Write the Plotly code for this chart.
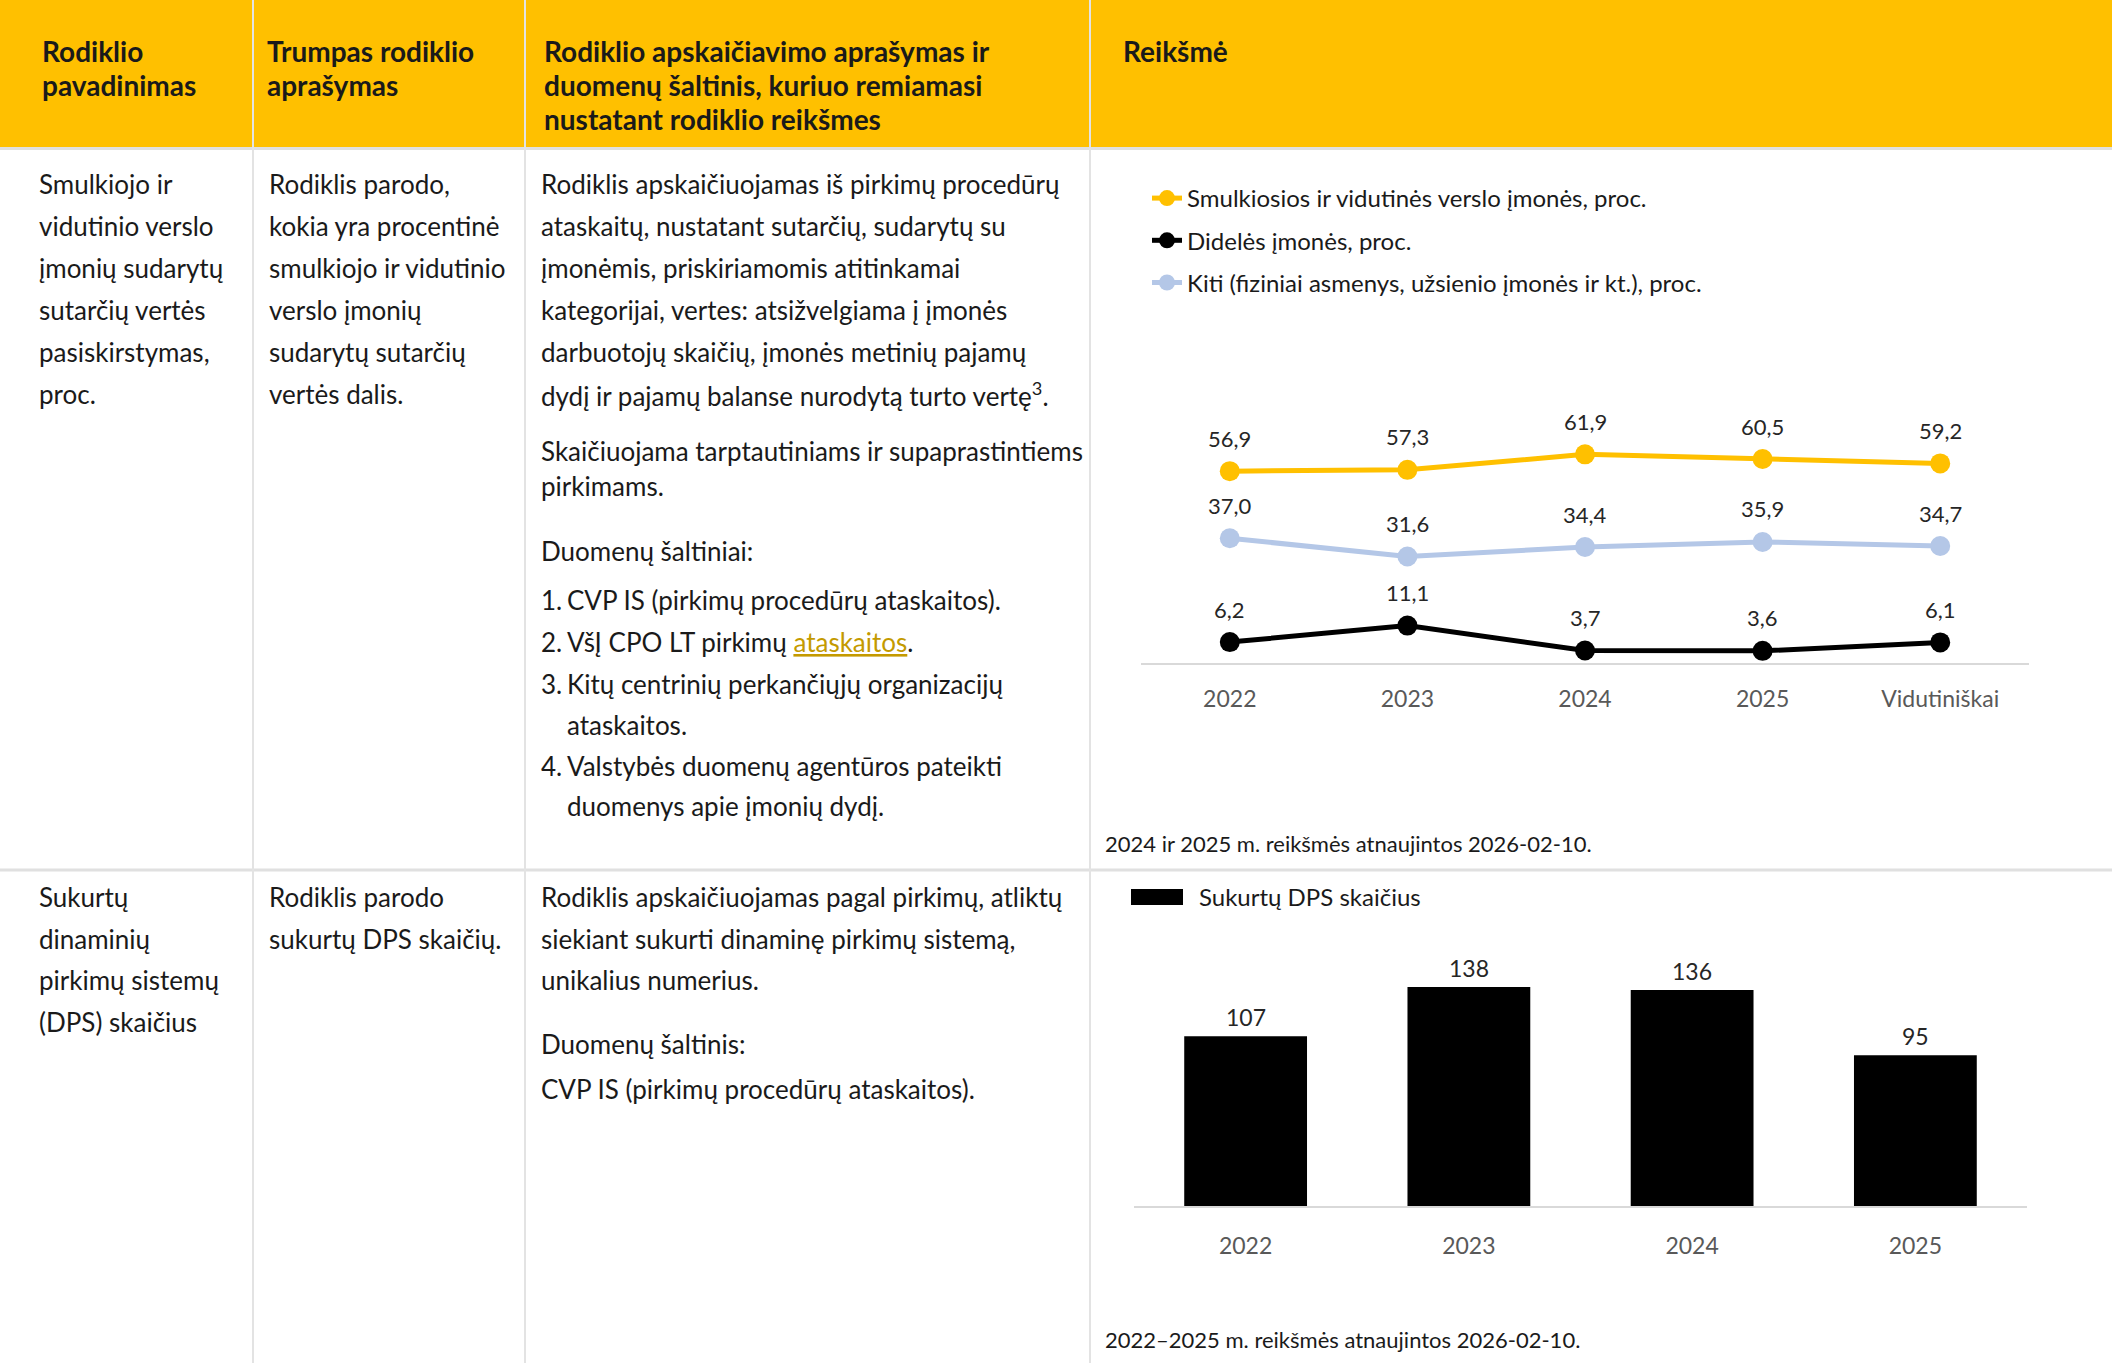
import plotly.graph_objects as go

W, H = 2112, 1363
FONT = "Lato"

# ---------------- data ----------------
line_categories = ["2022", "2023", "2024", "2025", "Vidutiniškai"]
sme_share = [56.9, 57.3, 61.9, 60.5, 59.2]
large_share = [6.2, 11.1, 3.7, 3.6, 6.1]
other_share = [37.0, 31.6, 34.4, 35.9, 34.7]
series_names = [
    "Smulkiosios ir vidutinės verslo įmonės, proc.",
    "Didelės įmonės, proc.",
    "Kiti (fiziniai asmenys, užsienio įmonės ir kt.), proc.",
]
series_colors = ["#FFC000", "#000000", "#B4C7E7"]

bar_categories = ["2022", "2023", "2024", "2025"]
dps_count = [107, 138, 136, 95]
bar_name = "Sukurtų DPS skaičius"

header_texts = [
    ["Rodiklio", "pavadinimas"],
    ["Trumpas rodiklio", "aprašymas"],
    ["Rodiklio apskaičiavimo aprašymas ir", "duomenų šaltinis, kuriuo remiamasi",
     "nustatant rodiklio reikšmes"],
    ["Reikšmė"],
]
row1_col1 = ["Smulkiojo ir", "vidutinio verslo", "įmonių sudarytų", "sutarčių vertės",
             "pasiskirstymas,", "proc."]
row1_col2 = ["Rodiklis parodo,", "kokia yra procentinė", "smulkiojo ir vidutinio",
             "verslo įmonių", "sudarytų sutarčių", "vertės dalis."]
row1_col3 = ["Rodiklis apskaičiuojamas iš pirkimų procedūrų",
             "ataskaitų, nustatant sutarčių, sudarytų su",
             "įmonėmis, priskiriamomis atitinkamai",
             "kategorijai, vertes: atsižvelgiama į įmonės",
             "darbuotojų skaičių, įmonės metinių pajamų",
             "dydį ir pajamų balanse nurodytą turto vertę<sup>3</sup>."]
row1_col3b = ["Skaičiuojama tarptautiniams ir supaprastintiems", "pirkimams."]
row1_sources_title = "Duomenų šaltiniai:"
row1_sources = [
    ("1.", "CVP IS (pirkimų procedūrų ataskaitos)."),
    ("2.", "VšĮ CPO LT pirkimų <span style='color:#C49A00'><u>ataskaitos</u></span>."),
    ("3.", "Kitų centrinių perkančiųjų organizacijų"),
    ("", "ataskaitos."),
    ("4.", "Valstybės duomenų agentūros pateikti"),
    ("", "duomenys apie įmonių dydį."),
]
row2_col1 = ["Sukurtų", "dinaminių", "pirkimų sistemų", "(DPS) skaičius"]
row2_col2 = ["Rodiklis parodo", "sukurtų DPS skaičių."]
row2_col3 = ["Rodiklis apskaičiuojamas pagal pirkimų, atliktų",
             "siekiant sukurti dinaminę pirkimų sistemą,",
             "unikalius numerius."]
row2_col3b = ["Duomenų šaltinis:", "CVP IS (pirkimų procedūrų ataskaitos)."]
note1 = "2024 ir 2025 m. reikšmės atnaujintos 2026-02-10."
note2 = "2022–2025 m. reikšmės atnaujintos 2026-02-10."


def px(x):
    return x / W


def py(y):
    return 1 - y / H


annotations = []
shapes = []
BODY = 26


def txt(x, yc, text, size=BODY, color="#1A1A1A", bold=False):
    if bold:
        text = "<b>" + text + "</b>"
    annotations.append(dict(
        x=px(x), y=py(yc), xref="paper", yref="paper", text=text,
        showarrow=False, xanchor="left", yanchor="middle", borderpad=0,
        font=dict(family=FONT, size=size, color=color), align="left"))


# ---------------- table background ----------------
shapes.append(dict(type="rect", xref="paper", yref="paper", x0=0, x1=1,
                   y0=py(147), y1=1, fillcolor="#FFC000", line=dict(width=0), layer="below"))
for y in [148.5, 870]:
    shapes.append(dict(type="line", xref="paper", yref="paper", x0=0, x1=1,
                       y0=py(y), y1=py(y), line=dict(color="#E0E0E0", width=3), layer="below"))
for x in [253, 525, 1090]:
    shapes.append(dict(type="line", xref="paper", yref="paper", x0=px(x), x1=px(x),
                       y0=0, y1=1, line=dict(color="#E3E3E3", width=2), layer="below"))

# ---------------- header ----------------
hx = [41, 266, 543, 1122]
for col, lines in enumerate(header_texts):
    for i, t in enumerate(lines):
        txt(hx[col], 51 + i * 33.8, t, size=28, bold=True)

# ---------------- row 1 text ----------------
row1_y = [184 + i * 42 for i in range(6)]
for i, t in enumerate(row1_col1):
    txt(38, row1_y[i], t)
for i, t in enumerate(row1_col2):
    txt(268, row1_y[i], t)
for i, t in enumerate(row1_col3):
    txt(540, row1_y[i], t)
txt(540, 451, row1_col3b[0])
txt(540, 486, row1_col3b[1])
txt(540, 551, row1_sources_title)
src_y = [600, 642, 684, 725, 766, 806]
for (num, t), y in zip(row1_sources, src_y):
    if num:
        txt(540, y, num)
    txt(566, y, t)

# ---------------- row 2 text ----------------
row2_y = [897 + i * 41.5 for i in range(4)]
for i, t in enumerate(row2_col1):
    txt(38, row2_y[i], t)
for i, t in enumerate(row2_col2):
    txt(268, row2_y[i], t)
for i, t in enumerate(row2_col3):
    txt(540, row2_y[i], t)
txt(540, 1044, row2_col3b[0])
txt(540, 1089, row2_col3b[1])

# notes
txt(1104, 843, note1, size=22)
txt(1104, 1339, note2, size=22)

# bar chart legend (wide swatch like the original)
shapes.append(dict(type="rect", xref="paper", yref="paper", x0=px(1131), x1=px(1183),
                   y0=py(905), y1=py(889), fillcolor="#000000", line=dict(width=0)))
txt(1198, 896, bar_name, size=24)

# ---------------- charts ----------------
fig = go.Figure()
for name, vals, col, grp in zip(series_names, [sme_share, large_share, other_share],
                                series_colors, ["a", "b", "c"]):
    fig.add_trace(go.Scatter(
        x=line_categories, y=vals, name=name, mode="lines+markers",
        line=dict(color=col, width=5), marker=dict(color=col, size=20),
        xaxis="x", yaxis="y", legend="legend", legendgroup=grp, cliponaxis=False,
        hoverinfo="skip"))
    for i, v in enumerate(vals):
        annotations.append(dict(
            x=i, y=v, xref="x", yref="y", text=f"{v:.1f}".replace(".", ","),
            showarrow=False, yshift=33, xanchor="center", yanchor="middle",
            font=dict(family=FONT, size=22, color="#262626")))

fig.add_trace(go.Bar(
    x=bar_categories, y=dps_count, name=bar_name,
    marker=dict(color="#000000", line=dict(width=0)),
    width=0.55, xaxis="x2", yaxis="y2", showlegend=False, hoverinfo="skip"))
for i, v in enumerate(dps_count):
    annotations.append(dict(
        x=i, y=v, xref="x2", yref="y2", text=str(v), showarrow=False, yshift=19,
        xanchor="center", yanchor="middle",
        font=dict(family=FONT, size=23, color="#262626")))

axis_common = dict(showgrid=False, zeroline=False, ticks="", showline=True,
                   linecolor="#D9D9D9", linewidth=2, fixedrange=True,
                   tickfont=dict(family=FONT, size=23, color="#595959"))

fig.update_layout(
    width=W, height=H, margin=dict(l=0, r=0, t=0, b=0),
    paper_bgcolor="white", plot_bgcolor="rgba(0,0,0,0)",
    separators=", ",
    font=dict(family=FONT, color="#1A1A1A"),
    xaxis=dict(domain=[px(1141), px(2029)], range=[-0.5, 4.5], type="category",
               anchor="y", ticklabelstandoff=14, **axis_common),
    yaxis=dict(domain=[py(663), py(427)], range=[0, 70], visible=False, anchor="x"),
    xaxis2=dict(domain=[px(1134), px(2027)], range=[-0.5, 3.5], type="category",
                anchor="y2", ticklabelstandoff=18, **axis_common),
    yaxis2=dict(domain=[py(1206), py(952)], range=[0, 160], visible=False, anchor="x2"),
    legend=dict(x=px(1147), y=py(176), xanchor="left", yanchor="top",
                font=dict(family=FONT, size=24, color="#1A1A1A"),
                traceorder="grouped", tracegroupgap=8, bgcolor="rgba(0,0,0,0)"),
    showlegend=True,
    shapes=shapes,
    annotations=annotations,
)

fig.write_html("out.html", config={"displayModeBar": False},
               post_script="document.body.style.margin='0';document.body.style.padding='0';"
                           "document.body.style.overflow='hidden';")
